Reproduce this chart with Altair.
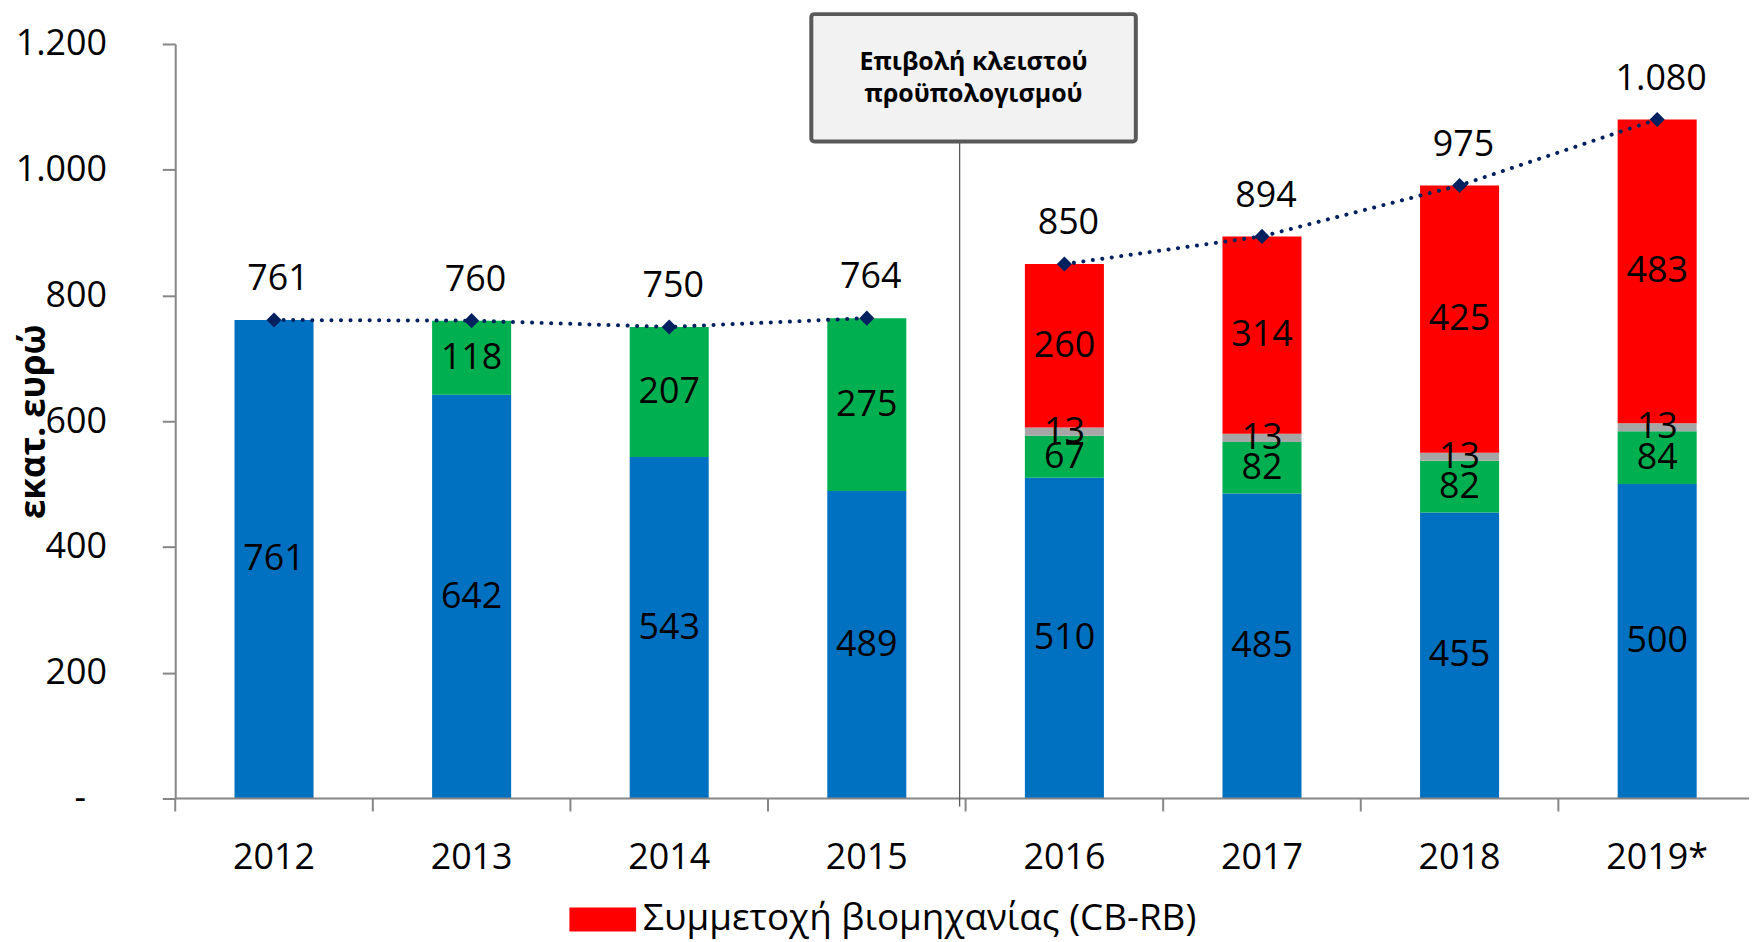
import altair as alt
import pandas as pd

years = ["2012", "2013", "2014", "2015", "2016", "2017", "2018", "2019*"]
periods = ["A", "A", "A", "A", "B", "B", "B", "B"]
blue_vals = [761, 642, 543, 489, 510, 485, 455, 500]
green_vals = [0, 118, 207, 275, 67, 82, 82, 84]
gray_vals = [0, 0, 0, 0, 13, 13, 13, 13]
red_vals = [0, 0, 0, 0, 260, 314, 425, 483]
totals = [761, 760, 750, 764, 850, 894, 975, 1080]

series_names = ["Δημόσια δαπάνη", "Rebate", "Λοιπά", "Συμμετοχή βιομηχανίας (CB-RB)"]
series_colors = ["#0070C0", "#00B050", "#A6A6A6", "#FF0000"]
annotation_text = "Επιβολή κλειστού\nπροϋπολογισμού"
y_title = "εκατ. ευρώ"
y_ticks = [0, 200, 400, 600, 800, 1000, 1200]

FONT = "Open Sans"


def fmt(v):
    return f"{v:,}".replace(",", ".")


rows = []
for i, yr in enumerate(years):
    base = 0
    for k, vals in enumerate([blue_vals, green_vals, gray_vals, red_vals]):
        v = vals[i]
        rows.append({
            "year": yr, "series": series_names[k], "ord": k,
            "start": base, "end": base + v, "mid": base + v / 2,
            "value": v, "label": fmt(v) if v > 0 else "",
        })
        base += v
bars_df = pd.DataFrame(rows)
bars_df = bars_df[bars_df["value"] > 0]

tot_df = pd.DataFrame({"year": years, "total": totals, "period": periods,
                       "label": [fmt(t) for t in totals]})

# the category axis runs slightly past the right edge of the picture, as in the original
x_enc = alt.X("year:N", sort=years,
              scale=alt.Scale(domain=years, paddingInner=0, paddingOuter=0,
                              range=[0, 1588]),
              axis=alt.Axis(title=None, labelAngle=0, labelFont=FONT, labelFontSize=36,
                            labelColor="black", ticks=False, tickSize=0,
                            labelPadding=70, labelBaseline="alphabetic",
                            domain=False, grid=False))

y_scale = alt.Scale(domain=[0, 1200], nice=False)
y_axis = alt.Axis(values=y_ticks,
                  labelExpr="datum.value == 0 ? '-' : replace(format(datum.value, ','), ',', '.')",
                  labelFont=FONT, labelFontSize=36, labelColor="black",
                  labelPadding={"condition": {"test": "datum.value == 0", "value": 77}, "value": 56},
                  tickSize=13, tickColor="#868686", tickWidth=2,
                  domainColor="#868686", domainWidth=2, grid=False,
                  title=y_title, titleFont=FONT, titleFontSize=35, titleFontWeight="bold",
                  titleColor="black", titleAngle=270, titleX=-142, titleY=379,
                  titleAlign="center", titleBaseline="middle")

bars = alt.Chart(bars_df).mark_bar(width=alt.RelativeBandSize(0.4)).encode(
    x=x_enc,
    y=alt.Y("start:Q", scale=y_scale, axis=y_axis),
    y2="end:Q",
    color=alt.Color("series:N",
                    scale=alt.Scale(domain=series_names, range=series_colors),
                    legend=alt.Legend(values=[series_names[3]], orient="none",
                                      legendX=396, legendY=846, title=None,
                                      symbolType="M-1,-0.36L1,-0.36L1,0.36L-1,0.36Z",
                                      symbolSize=4489, symbolStrokeWidth=0,
                                      symbolOpacity=1,
                                      labelFont=FONT, labelFontSize=37,
                                      labelColor="black", labelOffset=7,
                                      labelLimit=0, padding=0)),
    order=alt.Order("ord:Q"),
)

seg_labels = alt.Chart(bars_df).mark_text(font=FONT, fontSize=36, color="black",
                                          baseline="middle", align="center").encode(
    x=alt.X("year:N", sort=years),
    y=alt.Y("mid:Q"),
    text="label:N",
)

tick_df = pd.DataFrame({"year": years})
xticks = alt.Chart(tick_df).mark_rule(color="#868686", strokeWidth=2).encode(
    x=alt.X("year:N", sort=years, bandPosition=0),
    y=alt.value(758), y2=alt.value(771),
)
baseline = alt.Chart(tick_df.head(1)).mark_rule(color="#868686", strokeWidth=2).encode(
    x=alt.value(0), x2=alt.value(1581),
    y=alt.value(758),
)

line = alt.Chart(tot_df).mark_line(color="#002060", strokeWidth=4,
                                   strokeDash=[0.1, 9.5], strokeCap="round").encode(
    x=alt.X("year:N", sort=years),
    y=alt.Y("total:Q"),
    detail="period:N",
)
pts = alt.Chart(tot_df).mark_point(shape="diamond", filled=True, size=230,
                                   color="#002060", opacity=1).encode(
    x=alt.X("year:N", sort=years),
    y=alt.Y("total:Q"),
)
tot_labels = alt.Chart(tot_df).mark_text(font=FONT, fontSize=36, color="black",
                                         baseline="alphabetic", align="center",
                                         dy=-30, dx=4).encode(
    x=alt.X("year:N", sort=years),
    y=alt.Y("total:Q"),
    text="label:N",
)

ann_df = pd.DataFrame({"year": ["2016"], "text": [annotation_text]})
ann_rule = alt.Chart(ann_df).mark_rule(color="#595959", strokeWidth=1.3, xOffset=-6).encode(
    x=alt.X("year:N", sort=years, bandPosition=0),
    y=alt.value(98), y2=alt.value(766),
)
ann_box = alt.Chart(ann_df).mark_rect(fill="#F2F2F2", stroke="#595959", strokeWidth=4,
                                      cornerRadius=3).encode(
    x=alt.value(639), x2=alt.value(965), y=alt.value(-30), y2=alt.value(98),
)
ann_text = alt.Chart(ann_df).mark_text(font=FONT, fontSize=25, fontWeight="bold",
                                       color="black", align="center",
                                       baseline="alphabetic", lineBreak="\n",
                                       lineHeight=32).encode(
    x=alt.value(802), y=alt.value(26), text="text:N",
)

chart = alt.layer(
    bars, baseline, xticks, ann_rule, line, pts, tot_labels, seg_labels,
    ann_box, ann_text,
).properties(
    width=1581, height=758,
    autosize=alt.AutoSizeParams(type="none"),
    padding={"left": 168, "top": 34, "right": 0, "bottom": 142},
).configure_view(stroke=None)

chart.save("out.html", embed_options={"renderer": "svg", "actions": False})
